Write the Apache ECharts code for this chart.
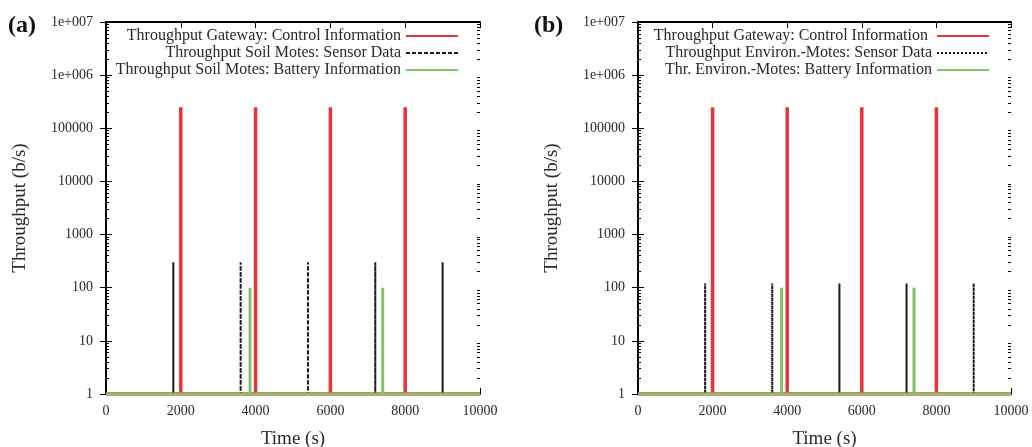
<!DOCTYPE html>
<html><head><meta charset="utf-8">
<script src="https://cdn.jsdelivr.net/npm/echarts@6/dist/echarts.min.js"></script>
<style>html,body{margin:0;padding:0;background:#fff}#c{width:1032px;height:447px}</style>
</head><body><div id="c"></div>
<script>
// Panel (a)
const aGatewayTimes = [2000, 4000, 6000, 8000];
const aGatewayPeak = 250000;
const aSensorTimes = [1800, 3600, 5400, 7200, 9000];
const aSensorPeak = 300;
const aBatteryTimes = [3850, 7400];
const aBatteryPeak = 100;
// Panel (b)
const bGatewayTimes = [2000, 4000, 6000, 8000];
const bGatewayPeak = 250000;
const bSensorTimes = [1800, 3600, 5400, 7200, 9000];
const bSensorPeak = 120;
const bBatteryTimes = [3850, 7400];
const bBatteryPeak = 100;

const xTicks = [0, 2000, 4000, 6000, 8000, 10000];
const yTickLabels = {1:'1',10:'10',100:'100',1000:'1000',10000:'10000',100000:'100000',1000000:'1e+006',10000000:'1e+007'};

const aNames = ['Throughput Gateway: Control Information','Throughput Soil Motes: Sensor Data','Throughput Soil Motes: Battery Information'];
const bNames = ['Throughput Gateway: Control Information ','Throughput Environ.-Motes: Sensor Data','Thr. Environ.-Motes: Battery Information'];

function spikes(times, peak) {
  const d = [[0, 1]];
  times.forEach(t => { d.push([t, 1]); d.push([t, peak]); d.push([t, 1]); });
  d.push([10000, 1]);
  return d;
}

// minor tick positions of the log axis (2..9 in each decade)
const minorTickValues = [];
for (let dec = 1; dec < 10000000; dec *= 10) for (let m = 2; m <= 9; m++) minorTickValues.push(m * dec);

const FONT = 'Liberation Serif';
const TXT = '#2a2a2a';
const grids = [
  {left: 106, top: 22, width: 374, height: 372, outerBoundsMode: 'none', containLabel: false},
  {left: 638, top: 22, width: 373, height: 372, outerBoundsMode: 'none', containLabel: false}
];
const xAxes = [], yAxes = [];
[0, 1].forEach(i => {
  xAxes.push({type:'value', gridIndex:i, min:0, max:10000, interval:2000,
    name:'Time (s)', nameLocation:'middle', nameGap:36,
    nameTextStyle:{fontFamily:FONT, fontSize:19, color:TXT},
    axisLine:{lineStyle:{color:'#000', width:2}},
    axisTick:{inside:true, length:6, lineStyle:{color:'#000'}},
    axisLabel:{fontFamily:FONT, fontSize:14, color:TXT, margin:10, formatter: v => String(v)},
    splitLine:{show:false}});
  xAxes.push({type:'value', gridIndex:i, position:'top', min:0, max:10000, interval:2000,
    axisLine:{lineStyle:{color:'#000', width:2}},
    axisTick:{inside:true, length:6, lineStyle:{color:'#000'}},
    axisLabel:{show:false}, splitLine:{show:false}});
  yAxes.push({type:'log', logBase:10, gridIndex:i, min:1, max:10000000,
    name:'Throughput (b/s)', nameLocation:'middle', nameGap: 76,
    nameTextStyle:{fontFamily:FONT, fontSize:19, color:TXT},
    axisLine:{show:true, lineStyle:{color:'#000', width:2}},
    axisTick:{show:true, inside:true, length:6, lineStyle:{color:'#000'}},
    axisLabel:{fontFamily:FONT, fontSize:14, color:TXT, margin:13,
      formatter: v => yTickLabels[Math.round(v)] || ''},
    splitLine:{show:false}});
  yAxes.push({type:'log', logBase:10, gridIndex:i, position:'right', min:1, max:10000000,
    axisLine:{show:true, lineStyle:{color:'#000', width:2}},
    axisTick:{show:true, inside:true, length:6, lineStyle:{color:'#000'}},
    axisLabel:{show:false}, splitLine:{show:false}});
  ['left', 'right'].forEach(pos => {
    yAxes.push({type:'log', logBase:10, gridIndex:i, position:pos, offset:0, min:1, max:10000000,
      axisLine:{show:false},
      axisTick:{show:true, inside:true, length:3, customValues: minorTickValues, lineStyle:{color:'#000'}},
      axisLabel:{show:false}, splitLine:{show:false}});
  });
});

function ser(name, xi, yi, data, color, width, type) {
  return {name, type:'line', xAxisIndex:xi, yAxisIndex:yi, data, symbol:'none',
    animation:false, lineStyle:{color, width, type}, itemStyle:{color}, z: 3};
}
const RED = '#e8333a', BLK = '#1a1a1a', GRN = '#7fc46a';
const series = [
  ser(aNames[0], 0, 0, spikes(aGatewayTimes, aGatewayPeak), RED, 3.5, 'solid'),
  ser(aNames[1], 0, 0, spikes(aSensorTimes, aSensorPeak), BLK, 2, [4, 2]),
  ser(aNames[2], 0, 0, spikes(aBatteryTimes, aBatteryPeak), GRN, 3, 'solid'),
  ser(bNames[0], 2, 4, spikes(bGatewayTimes, bGatewayPeak), RED, 3.5, 'solid'),
  ser(bNames[1], 2, 4, spikes(bSensorTimes, bSensorPeak), BLK, 2, [2, 2]),
  ser(bNames[2], 2, 4, spikes(bBatteryTimes, bBatteryPeak), GRN, 3, 'solid')
];

const legendBase = {orient:'vertical', align:'right', top:23, itemWidth:52, itemHeight:12, itemGap:1,
  itemStyle:{opacity:0},
  textStyle:{fontFamily:FONT, fontSize:16, color:TXT, padding:[0,0,0,0]}, selectedMode:false};

const chart = echarts.init(document.getElementById('c'), null, {renderer:'canvas'});
chart.setOption({
  animation:false,
  backgroundColor:'#fff',
  grid: grids,
  xAxis: xAxes,
  yAxis: yAxes,
  series,
  legend: [
    Object.assign({}, legendBase, {data: aNames, right: 1032 - 464}),
    Object.assign({}, legendBase, {data: bNames, right: 1032 - 995})
  ],
  graphic: [
    {type:'text', left:8, top:14, style:{text:'(a)', font:'bold 24px "Liberation Serif"', fill:'#111'}},
    {type:'text', left:534, top:14, style:{text:'(b)', font:'bold 24px "Liberation Serif"', fill:'#111'}}
  ]
});
</script></body></html>
